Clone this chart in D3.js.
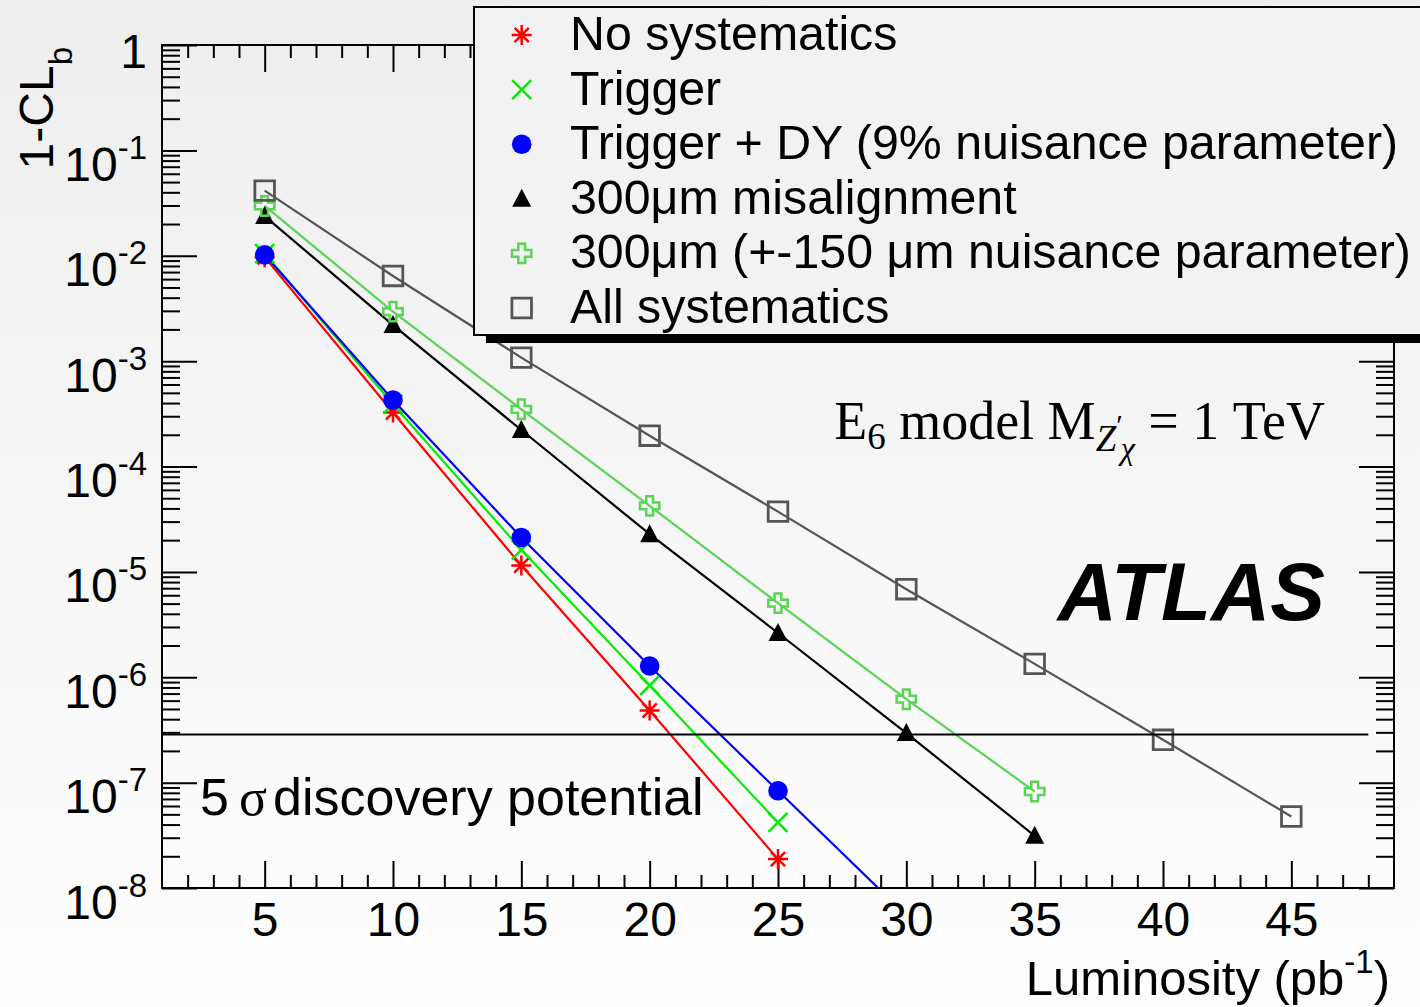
<!DOCTYPE html>
<html>
<head>
<meta charset="utf-8">
<script src="https://cdn.jsdelivr.net/npm/d3@7"></script>
<style>
  html, body { margin: 0; padding: 0; background: #ffffff; }
  svg { display: block; font-family: "Liberation Sans", Arial, Helvetica, sans-serif; }
</style>
</head>
<body>
<svg id="chart" width="1420" height="1007"></svg>
<script>
// ---- tick labels ----
const xTickValues = [5, 10, 15, 20, 25, 30, 35, 40, 45];
const yDecades = [1, 1e-1, 1e-2, 1e-3, 1e-4, 1e-5, 1e-6, 1e-7, 1e-8];
const yDecadeExponents = [0, -1, -2, -3, -4, -5, -6, -7, -8];

// ---- series: luminosity (pb^-1) and 1-CL_b ----
const lumiNoSyst = [5, 10, 15, 20, 25];
const clbNoSyst = [9.7e-3, 3.25e-4, 1.15e-5, 4.83e-7, 1.88e-8];

const lumiTrigger = [5, 10, 15, 20, 25];
const clbTrigger = [1.05e-2, 3.9e-4, 1.62e-5, 8.35e-7, 4.19e-8];

const lumiTriggerDY = [5, 10, 15, 20, 25, 30];
const clbTriggerDY = [1.02e-2, 4.28e-4, 2.12e-5, 1.28e-6, 8.36e-8, 5.5e-9];

const lumiMisalign = [5, 10, 15, 20, 25, 30, 35];
const clbMisalign = [2.38e-2, 2.2e-3, 2.22e-4, 2.28e-5, 2.63e-6, 2.95e-7, 3.13e-8];

const lumiMisalignNuis = [5, 10, 15, 20, 25, 30, 35];
const clbMisalignNuis = [2.97e-2, 2.95e-3, 3.49e-4, 4.23e-5, 5.05e-6, 6.19e-7, 8.24e-8];

const lumiAllSyst = [5, 10, 15, 20, 25, 30, 35, 40, 45];
const clbAllSyst = [4.15e-2, 6.43e-3, 1.08e-3, 1.96e-4, 3.73e-5, 6.85e-6, 1.34e-6, 2.55e-7, 4.77e-8];

// 5 sigma one-sided p-value, drawn from L=1 to L=48
const discoveryLevel = 2.87e-7;
const discoveryRange = [1, 48];

const legendLabels = [
  "No systematics",
  "Trigger",
  "Trigger + DY (9% nuisance parameter)",
  "300\u03bcm misalignment",
  "300\u03bcm (+-150 \u03bcm nuisance parameter)",
  "All systematics"
];

// ---- layout ----
const W = 1420, H = 1007;
const frame = { left: 162, right: 1394, top: 45, bottom: 888 };
const FONT = 48, SUP = 33, LEGEND_FONT = 48.3;
const SANS = "Liberation Sans, Arial, Helvetica, sans-serif";
const SERIF = "Liberation Serif, Times New Roman, serif";

const svg = d3.select("#chart");
const defs = svg.append("defs");

const grad = defs.append("linearGradient").attr("id", "bg")
  .attr("x1", 0).attr("y1", 0).attr("x2", 0).attr("y2", 1);
grad.append("stop").attr("offset", "0%").attr("stop-color", "#eeeeee");
grad.append("stop").attr("offset", "100%").attr("stop-color", "#fefefe");
svg.append("rect").attr("width", W).attr("height", H).attr("fill", "url(#bg)");

defs.append("clipPath").attr("id", "plotClip").append("rect")
  .attr("x", frame.left).attr("y", frame.top)
  .attr("width", frame.right - frame.left).attr("height", frame.bottom - frame.top);

const x = d3.scaleLinear().domain([1, 49]).range([frame.left, frame.right]);
const y = d3.scaleLog().domain([1e-8, 1]).range([frame.bottom, frame.top]);

// ---- axes: inward ticks on all four sides ----
const xMinor = x.ticks(48).filter(v => v > 1 && v < 49 && v % 5 !== 0);
const yMinor = y.ticks().filter(v => !yDecades.some(d => Math.abs(Math.log10(v) - Math.log10(d)) < 1e-6));

function styleAxis(g) {
  g.select(".domain").remove();
  g.selectAll(".tick line").attr("stroke", "#000").attr("stroke-width", 2);
}

// bottom
svg.append("g").attr("transform", `translate(0,${frame.bottom})`)
  .call(d3.axisBottom(x).tickValues(xMinor).tickSize(-13).tickFormat(""))
  .call(styleAxis);
const xMajorG = svg.append("g").attr("transform", `translate(0,${frame.bottom})`)
  .call(d3.axisBottom(x).tickValues(xTickValues).tickSize(-27).tickPadding(14).tickFormat(d3.format("d")))
  .call(styleAxis);
xMajorG.selectAll(".tick text")
  .attr("font-size", FONT).attr("font-family", SANS).attr("fill", "#000");

// top
svg.append("g").attr("transform", `translate(0,${frame.top})`)
  .call(d3.axisTop(x).tickValues(xMinor).tickSize(-13).tickFormat(""))
  .call(styleAxis);
svg.append("g").attr("transform", `translate(0,${frame.top})`)
  .call(d3.axisTop(x).tickValues(xTickValues).tickSize(-27).tickFormat(""))
  .call(styleAxis);

// left
svg.append("g").attr("transform", `translate(${frame.left},0)`)
  .call(d3.axisLeft(y).tickValues(yMinor).tickSize(-18).tickFormat(""))
  .call(styleAxis);
const yMajorG = svg.append("g").attr("transform", `translate(${frame.left},0)`)
  .call(d3.axisLeft(y).tickValues(yDecades).tickSize(-35).tickPadding(15).tickFormat(""))
  .call(styleAxis);
yMajorG.selectAll(".tick text").each(function(d) {
  const t = d3.select(this)
    .attr("font-size", FONT).attr("font-family", SANS)
    .attr("fill", "#000").attr("dy", null).attr("text-anchor", "end");
  const e = yDecadeExponents[yDecades.indexOf(d)];
  if (e === 0) {
    t.attr("y", 22).text("1");
  } else {
    t.attr("y", 30);
    t.append("tspan").text("10");
    t.append("tspan").attr("font-size", SUP).attr("dy", -22).text(String(e));
  }
});

// right
svg.append("g").attr("transform", `translate(${frame.right},0)`)
  .call(d3.axisRight(y).tickValues(yMinor).tickSize(-18).tickFormat(""))
  .call(styleAxis);
svg.append("g").attr("transform", `translate(${frame.right},0)`)
  .call(d3.axisRight(y).tickValues(yDecades).tickSize(-35).tickFormat(""))
  .call(styleAxis);

// frame
svg.append("rect")
  .attr("x", frame.left).attr("y", frame.top)
  .attr("width", frame.right - frame.left).attr("height", frame.bottom - frame.top)
  .attr("fill", "none").attr("stroke", "#000").attr("stroke-width", 2);

// ---- axis titles ----
const yTitle = svg.append("text")
  .attr("transform", `translate(53,47) rotate(-90)`)
  .attr("text-anchor", "end").attr("font-size", FONT);
yTitle.append("tspan").text("1-CL");
yTitle.append("tspan").attr("font-size", SUP).attr("dy", 19).text("b");

const xTitle = svg.append("text")
  .attr("x", 1390).attr("y", 995).attr("text-anchor", "end").attr("font-size", 49);
xTitle.append("tspan").text("Luminosity (pb");
xTitle.append("tspan").attr("font-size", SUP).attr("dy", -22).text("-1");
xTitle.append("tspan").attr("dy", 22).text(")");

// ---- markers ----
function markerPath(type) {
  switch (type) {
    case "star": {
      const s = 10, d = 7.1;
      return `M${-s},0L${s},0M0,${-s}L0,${s}M${-d},${-d}L${d},${d}M${-d},${d}L${d},${-d}`;
    }
    case "x": {
      const s = 9.5;
      return `M${-s},${-s}L${s},${s}M${-s},${s}L${s},${-s}`;
    }
    case "triangle":
      return "M0,-10L9.5,8L-9.5,8Z";
    case "opencross": {
      const s = 9.7, a = 3.4;
      return `M${-a},${-s}L${a},${-s}L${a},${-a}L${s},${-a}L${s},${a}L${a},${a}L${a},${s}` +
             `L${-a},${s}L${-a},${a}L${-s},${a}L${-s},${-a}L${-a},${-a}Z`;
    }
    case "square": {
      const s = 9.8;
      return `M${-s},${-s}L${s},${-s}L${s},${s}L${-s},${s}Z`;
    }
  }
  return "";
}

function drawMarker(g, type, color, cx, cy) {
  if (type === "circle") {
    g.append("circle").attr("cx", cx).attr("cy", cy).attr("r", 9.8).attr("fill", color);
    return;
  }
  const p = g.append("path").attr("d", markerPath(type))
    .attr("transform", `translate(${cx},${cy})`);
  if (type === "triangle") p.attr("fill", color);
  else p.attr("fill", "none").attr("stroke", color)
        .attr("stroke-width", type === "square" ? 2.8 : 2.5);
}

const series = [
  { xs: lumiNoSyst, ys: clbNoSyst, color: "#ff0000", marker: "star" },
  { xs: lumiTrigger, ys: clbTrigger, color: "#00ee00", marker: "x" },
  { xs: lumiTriggerDY, ys: clbTriggerDY, color: "#0000ff", marker: "circle" },
  { xs: lumiMisalign, ys: clbMisalign, color: "#000000", marker: "triangle" },
  { xs: lumiMisalignNuis, ys: clbMisalignNuis, color: "#59d454", marker: "opencross" },
  { xs: lumiAllSyst, ys: clbAllSyst, color: "#555555", marker: "square" }
];

const plot = svg.append("g").attr("clip-path", "url(#plotClip)");
const line = d3.line().x(d => x(d[0])).y(d => y(d[1]));

series.forEach(s => {
  const pts = s.xs.map((v, i) => [v, s.ys[i]]);
  plot.append("path").attr("d", line(pts))
    .attr("fill", "none").attr("stroke", s.color).attr("stroke-width", 2.2);
});
series.forEach(s => {
  s.xs.forEach((v, i) => drawMarker(plot, s.marker, s.color, x(v), y(s.ys[i])));
});

// 5 sigma discovery line
svg.append("line")
  .attr("x1", x(discoveryRange[0])).attr("x2", x(discoveryRange[1]))
  .attr("y1", y(discoveryLevel)).attr("y2", y(discoveryLevel))
  .attr("stroke", "#000").attr("stroke-width", 2);

// ---- annotations ----
const sigmaText = svg.append("text").attr("y", 815).attr("font-size", 52);
sigmaText.append("tspan").attr("x", 200).text("5");
sigmaText.append("tspan").attr("x", 239).attr("font-family", SERIF).text("\u03c3");
sigmaText.append("tspan").attr("x", 273).text("discovery potential");

const model = svg.append("text")
  .attr("x", 1325).attr("y", 439).attr("text-anchor", "end")
  .attr("font-family", SERIF)
  .attr("font-size", 54);
model.append("tspan").text("E");
model.append("tspan").attr("font-size", 37).attr("dy", 10).text("6");
model.append("tspan").attr("dy", -10).text(" model M");
model.append("tspan").attr("font-size", 37).attr("font-style", "italic").attr("dy", 12).text("Z");
model.append("tspan").attr("font-size", 30).attr("dy", -16).text("\u2032");
model.append("tspan").attr("font-size", 32).attr("font-style", "italic").attr("dx", -2).attr("dy", 24).text("\u03c7");
model.append("tspan").attr("dy", -20).text(" = 1 TeV");

svg.append("text").attr("x", 1325).attr("y", 620).attr("text-anchor", "end")
  .attr("font-size", 82).attr("font-weight", "bold").attr("font-style", "italic")
  .text("ATLAS");

// ---- legend ----
const leg = { x: 474, y: 7, w: 980, h: 328 };
svg.append("rect").attr("x", leg.x + 12).attr("y", leg.y + 8)
  .attr("width", leg.w).attr("height", leg.h).attr("fill", "#000");
svg.append("rect").attr("x", leg.x).attr("y", leg.y)
  .attr("width", leg.w).attr("height", leg.h)
  .attr("fill", "#f2f2f2").attr("stroke", "#000").attr("stroke-width", 2);

const legendG = svg.append("g");
const rowY = d3.scaleLinear().domain([0, 5]).range([35, 308]);
legendLabels.forEach((label, i) => {
  const s = series[i];
  drawMarker(legendG, s.marker, s.color, 521.7, rowY(i));
  legendG.append("text").attr("x", 570).attr("y", rowY(i) + 15)
    .attr("font-size", LEGEND_FONT).text(label);
});
</script>
</body>
</html>
